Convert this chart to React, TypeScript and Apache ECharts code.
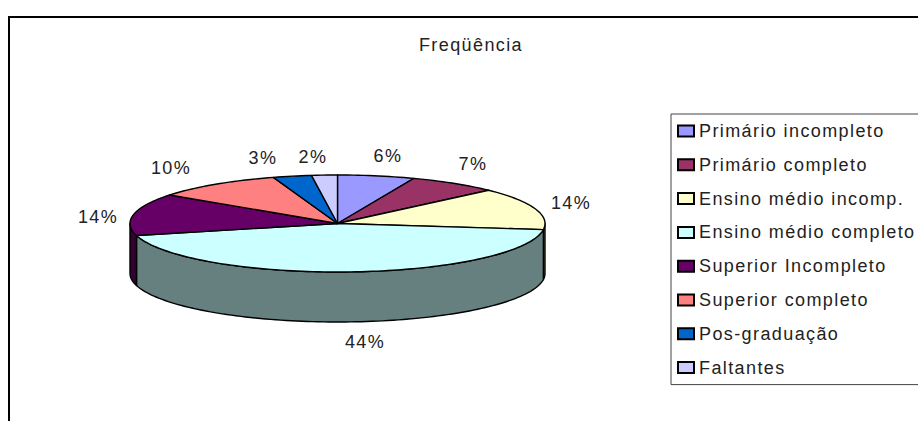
import React, { useEffect, useRef } from "react";
import * as echarts from "echarts";

const categories = [
  "Primário incompleto",
  "Primário completo",
  "Ensino médio incomp.",
  "Ensino médio completo",
  "Superior Incompleto",
  "Superior completo",
  "Pos-graduação",
  "Faltantes",
];
const shares = [6, 7, 14, 44, 14, 10, 3, 2];
const topColors = ["#9999ff", "#993366", "#ffffcc", "#ccffff", "#660066", "#ff8080", "#0066cc", "#ccccff"];
const sideColors = ["#4d4d80", "#4d1a33", "#808066", "#668080", "#330033", "#804040", "#003366", "#666680"];
const chartTitle = "Freqüência";

const CENTER_X = 337.5;
const CENTER_Y = 223.5;
const RADIUS_X = 207.5;
const RADIUS_Y = 48.5;
const DEPTH = 50;
const OUTLINE = 1.4;
const FONT_SIZE = 18;

// Label centres around the disc, in slice order.
const labelCentres: [number, number][] = [
  [388, 156], [473, 164], [571, 203], [365, 342], [98, 217], [171, 168], [263, 158], [313, 157],
];

const total = shares.reduce((a, b) => a + b, 0);

const rimPoint = (deg: number, drop = 0): [number, number] => {
  const rad = (deg * Math.PI) / 180;
  return [CENTER_X + RADIUS_X * Math.sin(rad), CENTER_Y - RADIUS_Y * Math.cos(rad) + drop];
};

const arcPoints = (from: number, to: number, drop = 0) => {
  const steps = Math.max(2, Math.ceil((to - from) / 1.5));
  const pts: [number, number][] = [];
  for (let i = 0; i <= steps; i++) pts.push(rimPoint(from + ((to - from) * i) / steps, drop));
  return pts;
};

// One slice of the tilted disc: the visible part of its wall, then its top face.
const sliceRenderer = (index: number) => (_params: any, api: any) => {
  const before = shares.slice(0, index).reduce((a, b) => a + b, 0);
  const start = (before / total) * 360;
  const end = start + (Number(api.value(0)) / total) * 360;
  const children: any[] = [];
  const wallFrom = Math.max(start, 90);
  const wallTo = Math.min(end, 270);
  if (wallTo > wallFrom) {
    const upper = arcPoints(wallFrom, wallTo);
    const lower = arcPoints(wallFrom, wallTo, DEPTH).reverse();
    children.push({
      type: "polygon",
      shape: { points: [...upper, ...lower] },
      style: { fill: sideColors[index], stroke: "#000", lineWidth: OUTLINE, lineJoin: "round" },
    });
  }
  children.push({
    type: "polygon",
    shape: { points: [[CENTER_X, CENTER_Y], ...arcPoints(start, end)] },
    style: { fill: topColors[index], stroke: "#000", lineWidth: OUTLINE, lineJoin: "round" },
  });
  children.push({
    type: "text",
    x: labelCentres[index][0],
    y: labelCentres[index][1],
    style: {
      text: `${shares[index]}%`,
      fill: "#222",
      font: `${FONT_SIZE}px 'Liberation Sans'`,
      align: "center",
      verticalAlign: "middle",
    },
  });
  return { type: "group", children };
};

export default function App() {
  const ref = useRef<HTMLDivElement>(null);
  useEffect(() => {
    const chart = echarts.init(ref.current!, null, { renderer: "svg" });
    chart.setOption({
      animation: false,
      backgroundColor: "#fff",
      title: {
        text: chartTitle,
        left: 466,
        top: 31,
        textAlign: "center",
        textStyle: { fontFamily: "Liberation Sans", fontSize: FONT_SIZE, fontWeight: "normal", color: "#222" },
      },
      legend: {
        orient: "vertical",
        left: 671,
        top: 114,
        padding: [8, 40, 8, 6],
        itemGap: 15.8,
        itemWidth: 16,
        itemHeight: 11,
        icon: "rect",
        borderColor: "#444",
        borderWidth: 1,
        selectedMode: false,
        textStyle: { fontFamily: "Liberation Sans", fontSize: FONT_SIZE, lineHeight: 18, color: "#222" },
        data: categories,
      },
      graphic: [
        {
          type: "polyline",
          shape: { points: [[9, 421], [9, 17], [918, 17]] },
          style: { stroke: "#000", lineWidth: 2, fill: "none" },
        },
      ],
      series: categories.map((name, i) => ({
        type: "custom",
        name,
        coordinateSystem: "none",
        data: [[shares[i]]],
        itemStyle: { color: topColors[i], borderColor: "#000", borderWidth: 1.4 },
        renderItem: sliceRenderer(i),
      })),
    });
    return () => chart.dispose();
  }, []);
  return (
    <div
      ref={ref}
      style={{ position: "fixed", left: 0, top: 0, width: 918, height: 421, letterSpacing: "1.4px" }}
    />
  );
}
